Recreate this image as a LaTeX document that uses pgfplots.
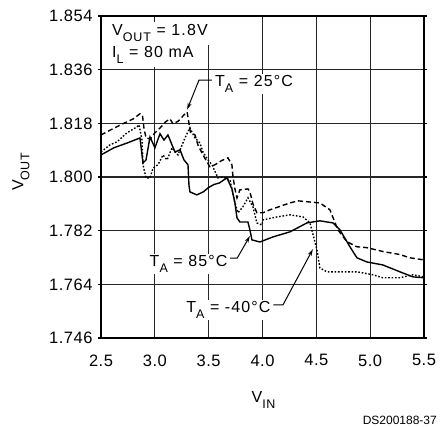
\documentclass[border=0pt]{standalone}
\usepackage{fontspec}
\setmainfont{Liberation Sans}[LetterSpace=3]
\newfontfamily\dsfont{Liberation Sans}
\newfontfamily\annfont{Liberation Sans}[LetterSpace=7]
\usepackage{pgfplots}
\pgfplotsset{compat=1.18}
\usetikzlibrary{arrows.meta}
\newcommand\sub[1]{\raisebox{-6pt}{\fontsize{12.5}{12}\selectfont #1}}
\begin{document}
\fontsize{16}{19}\selectfont
\begin{tikzpicture}[x=1pt,y=1pt]
\path[use as bounding box] (0,0) rectangle (441,427);
\begin{axis}[at={(101pt,89pt)}, anchor=south west, scale only axis,
  width=323pt, height=322pt,
  xmin=2.5, xmax=5.5, ymin=1.746, ymax=1.854,
  xtick={2.5,3,3.5,4,4.5,5,5.5}, xticklabels={2.5,3.0,3.5,4.0,4.5,5.0,5.5},
  ytick={1.746,1.764,1.782,1.8,1.818,1.836,1.854},
  yticklabels={1.746,1.764,1.782,1.800,1.818,1.836,1.854},
  grid=major, major grid style={black!85, line width=1.1pt},
  axis line style={black, line width=1.6pt},
  tick align=outside, major tick length=3pt,
  xtick style={draw=none}, ytick style={black, line width=1.1pt},
  tick label style={font=\fontsize{16.5}{19}\selectfont},
  xticklabel shift=8pt,
  clip=false]
% T_A = 85 C (solid)
\addplot[black, line width=1.4pt] coordinates {
(2.50,1.8074)(2.62,1.8098)(2.75,1.8115)(2.862,1.8131)(2.89,1.8047)(2.918,1.8057)
(2.955,1.8134)(3.001,1.8098)(3.048,1.8145)(3.085,1.8124)(3.122,1.8141)(3.159,1.8108)
(3.187,1.8084)(3.234,1.8091)(3.271,1.8057)(3.308,1.8041)(3.317,1.7973)(3.326,1.7950)
(3.39,1.7940)(3.45,1.7950)(3.50,1.7965)(3.55,1.7975)(3.60,1.7980)(3.64,1.7990)
(3.67,1.7997)(3.716,1.7960)(3.744,1.7913)(3.763,1.7863)(3.79,1.7849)(3.865,1.7849)
(3.883,1.7823)(3.902,1.7789)(3.976,1.7782)(4.097,1.7799)(4.255,1.7816)(4.413,1.7846)
(4.533,1.7853)(4.654,1.7846)(4.719,1.7823)(4.812,1.7766)(4.877,1.7729)(4.97,1.7715)
(5.118,1.7705)(5.276,1.7682)(5.397,1.7665)(5.50,1.7662)};
% T_A = 25 C (dashed)
\addplot[black, line width=1.4pt, dash pattern=on 5pt off 3pt] coordinates {
(2.50,1.8141)(2.60,1.8160)(2.70,1.8178)(2.80,1.8195)(2.862,1.8212)(2.885,1.8208)
(2.90,1.8160)(2.92,1.8130)(2.96,1.8128)(3.00,1.8148)(3.05,1.8165)(3.10,1.8185)
(3.14,1.8195)(3.17,1.8178)(3.22,1.8188)(3.27,1.8208)(3.30,1.8218)(3.33,1.8151)
(3.373,1.8141)(3.40,1.8108)(3.447,1.8074)(3.484,1.8051)(3.512,1.8034)(3.558,1.8041)
(3.62,1.8055)(3.679,1.8064)(3.716,1.8041)(3.726,1.8000)(3.744,1.7960)(3.763,1.7930)
(3.79,1.7957)(3.865,1.7960)(3.883,1.7950)(3.911,1.7910)(3.948,1.7880)(4.004,1.7880)
(4.069,1.7890)(4.15,1.7900)(4.255,1.7913)(4.33,1.7920)(4.413,1.7917)(4.533,1.7913)
(4.626,1.7890)(4.70,1.7823)(4.784,1.7783)(4.877,1.7766)(4.97,1.7763)(5.118,1.7750)
(5.276,1.7740)(5.369,1.7729)(5.50,1.7722)};
% T_A = -40 C (dotted)
\addplot[black, line width=1.4pt, dash pattern=on 1.6pt off 1.8pt] coordinates {
(2.50,1.8084)(2.584,1.8108)(2.649,1.8118)(2.741,1.8148)(2.834,1.8168)(2.853,1.8175)
(2.881,1.8124)(2.89,1.8041)(2.918,1.7997)(2.955,1.7997)(2.983,1.8030)(3.029,1.8041)
(3.076,1.8074)(3.113,1.8057)(3.159,1.8098)(3.215,1.8074)(3.28,1.8131)(3.326,1.8165)
(3.373,1.8131)(3.419,1.8114)(3.447,1.8084)(3.494,1.8057)(3.531,1.8041)(3.586,1.7997)
(3.633,1.8000)(3.698,1.7990)(3.744,1.7913)(3.772,1.7880)(3.818,1.7900)(3.865,1.7930)
(3.911,1.7900)(3.948,1.7846)(3.995,1.7839)(4.004,1.7856)(4.134,1.7866)(4.255,1.7873)
(4.376,1.7866)(4.441,1.7846)(4.506,1.7756)(4.533,1.7695)(4.598,1.7682)(4.719,1.7682)
(4.877,1.7682)(5.026,1.7672)(5.118,1.7662)(5.276,1.7662)(5.397,1.7672)(5.50,1.7665)};
% annotations
\draw[black, line width=1pt, -{Stealth[length=7pt,width=4pt]}]
  (axis cs:3.53,1.8325) -- (axis cs:3.41,1.8325) -- (axis cs:3.30,1.8226);
\node[anchor=base west, inner sep=1.5pt, fill=white, font=\annfont] at (axis cs:3.545,1.8302) {T\sub{A} = 25°C};
\draw[black, line width=1pt, -{Stealth[length=7pt,width=4pt]}]
  (axis cs:3.70,1.7728) -- (axis cs:3.765,1.7728) -- (axis cs:3.883,1.7802);
\node[anchor=base east, inner sep=1.5pt, fill=white, font=\annfont] at (axis cs:3.69,1.7699) {T\sub{A} = 85°C};
\draw[black, line width=1pt, -{Stealth[length=7pt,width=4pt]}]
  (axis cs:4.10,1.7571) -- (axis cs:4.19,1.7571) -- (axis cs:4.468,1.7758);
\node[anchor=base east, inner sep=1.5pt, fill=white, font=\annfont] at (axis cs:4.09,1.7545) {T\sub{A} = -40°C};
\end{axis}
\fill[white] (203,386) rectangle (212,409.5);
\node[anchor=base west, inner xsep=3pt, inner ysep=3pt, fill=white, font=\annfont] at (109,391) {V\sub{OUT} = 1.8V};
\node[anchor=base west, inner xsep=3pt, inner ysep=3pt, fill=white, font=\annfont] at (109,369) {I\sub{L} = 80 mA};
\node[rotate=90] at (21,255) {V\sub{OUT}};
\node[anchor=base, inner sep=0pt] at (263.5,24) {V\sub{IN}};
\node[anchor=base east, inner sep=0pt, font=\dsfont\fontsize{12}{14}\selectfont] at (437,2) {DS200188-37};
\end{tikzpicture}
\end{document}
